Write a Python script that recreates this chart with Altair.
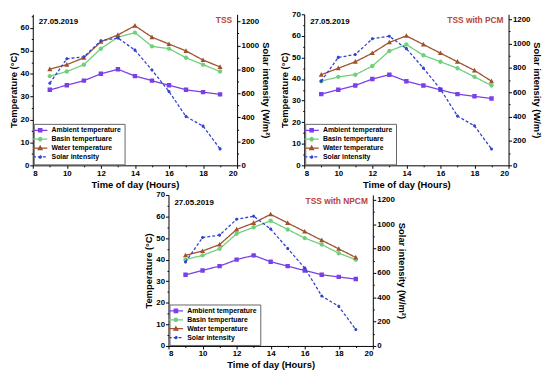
import altair as alt
import pandas as pd

hours = [9, 10, 11, 12, 13, 14, 15, 16, 17, 18, 19]
series_names = ["Ambient temperature", "Basin tempertuare", "Water temperature", "Solar intensity"]
series_colors = ["#7a40e6", "#6fcf7a", "#a0522d", "#3344cc"]

# TSS
p1_ambient = [33, 35, 37, 40, 42, 39, 37, 35, 33, 32, 31]
p1_basin = [39, 41, 44, 51, 56, 58, 52, 51, 47, 44, 41]
p1_water = [42, 44, 47, 54, 57, 61, 56, 53, 50, 46, 43]
p1_solar = [685, 889, 905, 1039, 1063, 961, 795, 616, 407, 327, 137]

# TSS with PCM
p2_ambient = [33, 35, 37, 40, 42, 39, 37, 35, 33, 32, 31]
p2_basin = [39, 41, 42, 46, 53, 56, 51, 48, 45, 41, 37]
p2_water = [42, 45, 48, 52, 57, 60, 56, 52, 48, 44, 39]
p2_solar = [691, 886, 910, 1039, 1060, 958, 798, 626, 404, 324, 134]

# TSS with NPCM
p3_ambient = [33, 35, 37, 40, 42, 39, 37, 35, 33, 32, 31]
p3_basin = [40, 42, 45, 52, 55, 58, 54, 50, 47, 43, 40]
p3_water = [42, 44, 47, 54, 57, 61, 57, 53, 49, 45, 41]
p3_solar = [690, 890, 910, 1040, 1065, 960, 800, 640, 410, 325, 135]

x_ticks = list(range(8, 21))
t_ticks = list(range(0, 71, 5))
s_ticks = list(range(0, 1201, 100))

shape_paths = [
    "M-4.2,0H4.2M-1,-1H1V1H-1Z",
    "M-4.2,0H4.2M1,0A1,1,0,1,1,-1,0A1,1,0,1,1,1,0Z",
    "M-4.2,0H4.2M0,-1.2L1.15,0.9H-1.15Z",
    "M-4.2,0H4.2M0.7,0A0.7,0.7,0,1,1,-0.7,0A0.7,0.7,0,1,1,0.7,0Z",
]
dashes = [[1, 0], [1, 0], [1, 0], [3, 2]]

FONT = "Liberation Sans"


def minor(step):
    return {"condition": {"test": f"datum.value % {step} != 0", "value": 1.5}, "value": 3}


def leg():
    return alt.Legend(title=None, orient="bottom-left", strokeColor="#666666",
                      fillColor="white", padding=3,
                      symbolSize=12, symbolStrokeWidth=1.2, labelOffset=8, rowPadding=0,
                      offset=1)


def panel(label, amb, basin, water, solar, ymax, smax):
    temps = pd.DataFrame({
        "hour": hours * 3,
        "value": amb + basin + water,
        "series": [series_names[0]] * 11 + [series_names[1]] * 11 + [series_names[2]] * 11,
    })
    sol = pd.DataFrame({"hour": hours, "value": solar, "series": [series_names[3]] * 11})

    x = alt.X("hour:Q", scale=alt.Scale(domain=[8, 20], nice=False),
              axis=alt.Axis(values=x_ticks, title="Time of day (Hours)",
                            labelExpr="datum.value % 2 == 0 ? datum.label : ''",
                            tickSize=minor(2)))
    stroke = alt.Stroke("series:N", scale=alt.Scale(domain=series_names, range=series_colors), legend=leg())
    fill = alt.Fill("series:N", scale=alt.Scale(domain=series_names, range=series_colors), legend=leg())
    shape = alt.Shape("series:N", scale=alt.Scale(domain=series_names, range=shape_paths), legend=leg())
    dash = alt.StrokeDash("series:N", scale=alt.Scale(domain=series_names, range=dashes), legend=leg())

    yl = alt.Y("value:Q", scale=alt.Scale(domain=[0, ymax], nice=False),
               axis=alt.Axis(values=[t for t in t_ticks if t <= ymax], title="Temperature (°C)",
                             labelExpr="datum.value % 10 == 0 ? datum.label : ''",
                             tickSize=minor(10)))
    yr = alt.Y("value:Q", scale=alt.Scale(domain=[0, smax], nice=False),
               axis=alt.Axis(orient="right", values=s_ticks, format="d",
                             labelExpr="datum.value % 200 == 0 ? datum.label : ''",
                             tickSize=minor(200),
                             title="Solar intensity (W/m²)"))

    tline = alt.Chart(temps).mark_line(strokeWidth=1.3).encode(x=x, y=yl, stroke=stroke, strokeDash=dash)
    tpts = alt.Chart(temps).mark_point(filled=True, size=20, opacity=1).encode(x=x, y=yl, fill=fill, shape=shape)
    sline = alt.Chart(sol).mark_line(strokeWidth=1.3).encode(x=x, y=yr, stroke=stroke, strokeDash=dash)
    spts = alt.Chart(sol).mark_point(filled=True, size=20, opacity=1).encode(x=x, y=yr, fill=fill, shape=shape)

    date = alt.Chart(pd.DataFrame({"t": ["27.05.2019"]})).mark_text(
        align="left", baseline="top", font=FONT, fontSize=8, fontWeight="bold", color="black"
    ).encode(text="t:N", x=alt.value(6), y=alt.value(4))
    ttl = alt.Chart(pd.DataFrame({"t": [label]})).mark_text(
        align="right", baseline="top", font=FONT, fontSize=8.5, fontWeight="bold", color="#b8453a"
    ).encode(text="t:N", x=alt.value(202), y=alt.value(2))

    left = alt.layer(tline, tpts)
    right = alt.layer(sline, spts)
    return alt.layer(left, right, date, ttl).resolve_scale(y="independent").properties(width=207, height=153)


p1 = panel("TSS", p1_ambient, p1_basin, p1_water, p1_solar, 66, 1260)
p2 = panel("TSS with PCM", p2_ambient, p2_basin, p2_water, p2_solar, 70, 1240)
p3 = panel("TSS with NPCM", p3_ambient, p3_basin, p3_water, p3_solar, 70, 1240)

ind = dict(fill="independent", stroke="independent", shape="independent", strokeDash="independent")
top = alt.hconcat(p1, p2, spacing=9).resolve_scale(**ind)
chart = alt.vconcat(top, p3, spacing=2, center=True).resolve_scale(**ind).configure_view(
    stroke=None
).configure_axis(
    domainColor="black", tickColor="black", labelColor="black", titleColor="black",
    labelFont=FONT, titleFont=FONT, labelFontSize=8, labelFontWeight="bold",
    titleFontSize=9.5, titleFontWeight="bold", grid=False, labelPadding=1,
    titlePadding=2, domainWidth=1
).configure_legend(
    labelFont=FONT, labelFontSize=7, labelFontWeight="bold", labelColor="black",
    labelLimit=200, strokeColor="#666666", strokeWidth=1
).properties(padding=0)

chart.save("out.html", embed_options={"renderer": "svg", "actions": False})
